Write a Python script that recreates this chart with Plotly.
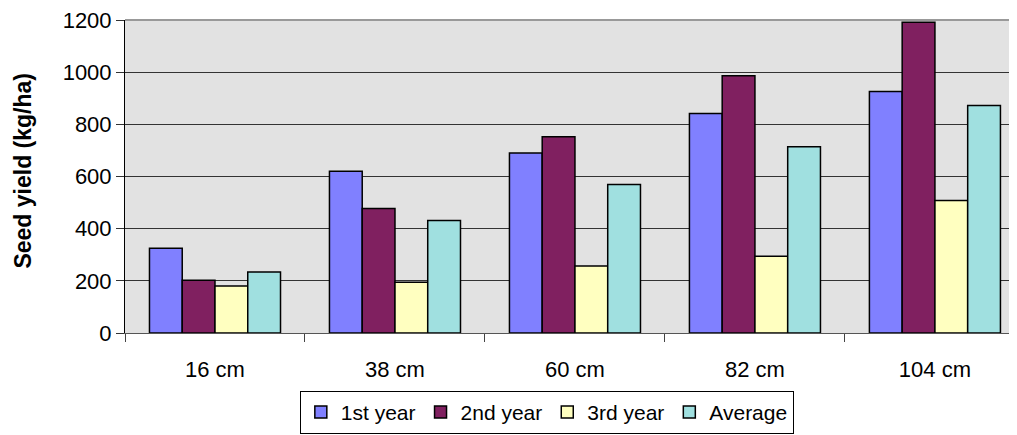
import plotly.graph_objects as go

categories = ["16 cm", "38 cm", "60 cm", "82 cm", "104 cm"]
series_names = ["1st year", "2nd year", "3rd year", "Average"]
year1 = [325, 620, 690, 842, 926]
year2 = [202, 477, 752, 986, 1191]
year3 = [180, 195, 257, 294, 508]
average = [234, 431, 569, 714, 872]
y_ticks = [0, 200, 400, 600, 800, 1000, 1200]

colors = ["#8080FF", "#802060", "#FFFFC0", "#A0E0E0"]
series_values = [year1, year2, year3, average]

FONT = "Liberation Sans, Arial, sans-serif"
FS = 22

fig = go.Figure()
for name, vals, col in zip(series_names, series_values, colors):
    fig.add_trace(go.Bar(
        x=categories, y=vals, name=name,
        marker=dict(color=col, line=dict(color="black", width=1.5)),
    ))

fig.update_layout(
    width=1009, height=427,
    margin=dict(l=117, r=0, t=12, b=102, autoexpand=False),
    paper_bgcolor="white",
    plot_bgcolor="#E2E2E2",
    barmode="group",
    bargap=0.272,
    bargroupgap=0,
    font=dict(family=FONT, size=FS, color="black"),
    showlegend=True,
    legend=dict(
        orientation="h",
        x=0.196, xanchor="left",
        y=-0.185, yanchor="top",
        bordercolor="black", borderwidth=1,
        bgcolor="white",
        font=dict(family=FONT, size=21, color="black"),
        itemwidth=30,
        tracegroupgap=0,
    ),
    xaxis=dict(
        range=[-0.5, 4.456],
        tickson="boundaries",
        ticks="outside", ticklen=8, tickcolor="#444", tickwidth=1,
        showline=True, linecolor="#555", linewidth=1,
        showgrid=False,
        ticklabelstandoff=17,
        ticklabeloverflow="allow",
        tickfont=dict(family=FONT, size=FS),
    ),
    yaxis=dict(
        range=[0, 1200],
        tickvals=y_ticks,
        ticks="outside", ticklen=8, tickcolor="#333", tickwidth=1,
        showline=True, linecolor="black", linewidth=1,
        showgrid=True, gridcolor="#333", gridwidth=1,
        ticklabeloverflow="allow",
        tickfont=dict(family=FONT, size=FS),
        zeroline=False,
    ),
    shapes=[dict(
        type="line", xref="paper", yref="paper",
        x0=0, x1=1, y0=1, y1=1,
        line=dict(color="#999999", width=2), layer="above",
    )],
    annotations=[dict(
        text="<b>Seed yield (kg/ha)</b>",
        xref="paper", yref="paper",
        x=-0.114, y=0.52, xanchor="center", yanchor="middle",
        textangle=-90, showarrow=False,
        font=dict(family=FONT, size=23, color="black"),
    )],
)

fig.write_html("out.html")
